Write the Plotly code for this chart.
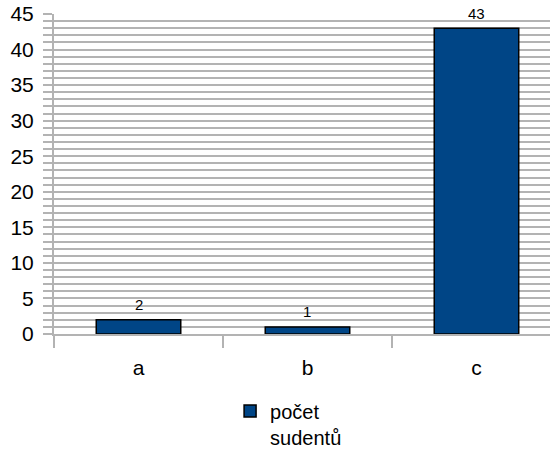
import plotly.graph_objects as go

categories = ["a", "b", "c"]
values = [2, 1, 43]
series_name = "počet<br>sudentů"
y_ticks = list(range(0, 46, 5))

bar_fill = "#004586"
grid_color = "#b3b3b3"
font_family = "Liberation Sans, Arial, sans-serif"

fig = go.Figure()
fig.add_trace(go.Bar(
    x=categories,
    y=values,
    name=series_name,
    width=0.5,
    marker=dict(color=bar_fill, line=dict(color="#000000", width=1.5)),
    showlegend=True,
))

# value labels above each bar
for cat, val in zip(categories, values):
    fig.add_annotation(
        x=cat, y=val, text=str(val), showarrow=False,
        yshift=15, font=dict(family=font_family, size=15, color="#000000"),
    )

fig.update_layout(
    width=550, height=450,
    margin=dict(l=54, r=0, t=14, b=116, autoexpand=False),
    paper_bgcolor="#ffffff", plot_bgcolor="#ffffff",
    font=dict(family=font_family, color="#000000"),
    bargap=0.5,
    legend=dict(
        orientation="h", x=0.355, xanchor="left", y=-0.18, yanchor="top",
        valign="top", font=dict(size=20, family=font_family),
        itemwidth=30,
    ),
)

fig.update_xaxes(
    type="category",
    range=[-0.5, 2.435],
    showline=True, linecolor=grid_color, linewidth=2,
    ticks="outside", ticklen=12, tickcolor=grid_color, tickwidth=2,
    tickson="boundaries",
    showgrid=False,
    tickfont=dict(size=21, family=font_family),
    ticklabelstandoff=14,
)

fig.update_yaxes(
    range=[0, 45],
    tickvals=y_ticks,
    showline=True, linecolor=grid_color, linewidth=2,
    ticks="outside", ticklen=9, tickcolor=grid_color, tickwidth=2,
    showgrid=True, gridcolor=grid_color, gridwidth=2,
    minor=dict(dtick=1, showgrid=True, gridcolor=grid_color, gridwidth=2,
               ticks="outside", ticklen=9, tickcolor=grid_color, tickwidth=2),
    zeroline=False,
    tickfont=dict(size=21, family=font_family),
    ticklabelstandoff=5,
)

fig.write_html("out.html")
